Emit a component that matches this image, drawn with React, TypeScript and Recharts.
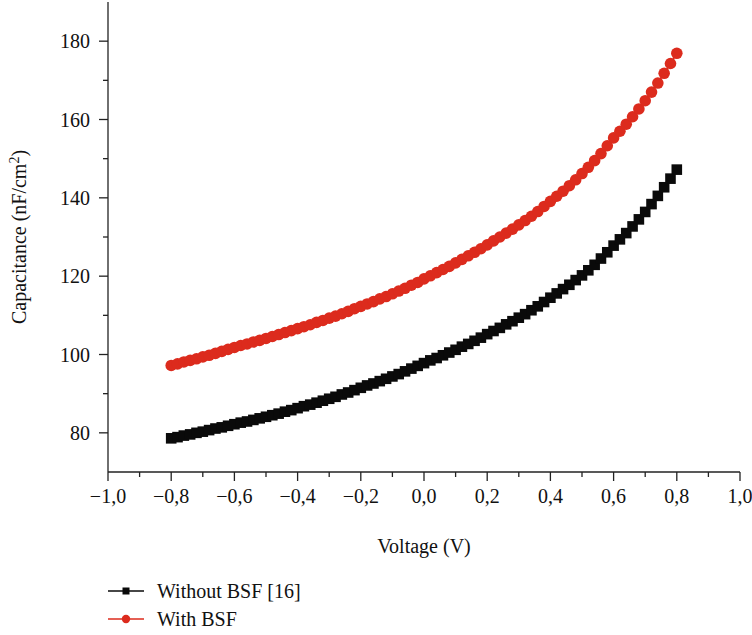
import { LineChart, Line, XAxis, YAxis } from "recharts"

let voltage = [
  -0.8, -0.78, -0.76, -0.74, -0.72, -0.7, -0.68, -0.66, -0.64, -0.62,
  -0.6, -0.58, -0.56, -0.54, -0.52, -0.5, -0.48, -0.46, -0.44, -0.42,
  -0.4, -0.38, -0.36, -0.34, -0.32, -0.3, -0.28, -0.26, -0.24, -0.22,
  -0.2, -0.18, -0.16, -0.14, -0.12, -0.1, -0.08, -0.06, -0.04, -0.02,
  0, 0.02, 0.04, 0.06, 0.08, 0.1, 0.12, 0.14, 0.16, 0.18,
  0.2, 0.22, 0.24, 0.26, 0.28, 0.3, 0.32, 0.34, 0.36, 0.38,
  0.4, 0.42, 0.44, 0.46, 0.48, 0.5, 0.52, 0.54, 0.56, 0.58,
  0.6, 0.62, 0.64, 0.66, 0.68, 0.7, 0.72, 0.74, 0.76, 0.78, 0.8,
]

let withoutBSF = [
  78.6, 78.9, 79.3, 79.6, 80.0, 80.3, 80.7, 81.1, 81.4, 81.8,
  82.2, 82.6, 82.9, 83.3, 83.7, 84.1, 84.5, 84.9, 85.4, 85.8,
  86.3, 86.8, 87.2, 87.7, 88.2, 88.7, 89.2, 89.8, 90.3, 90.9,
  91.5, 92.1, 92.6, 93.2, 93.8, 94.4, 95.0, 95.7, 96.4, 97.1,
  97.8, 98.5, 99.1, 99.8, 100.5, 101.2, 102.0, 102.7, 103.5, 104.3,
  105.2, 106.0, 106.8, 107.7, 108.5, 109.4, 110.3, 111.3, 112.3, 113.4,
  114.5, 115.6, 116.7, 117.8, 119.0, 120.2, 121.5, 122.9, 124.5, 126.1,
  127.8, 129.4, 131.0, 132.7, 134.5, 136.4, 138.4, 140.5, 142.7, 144.9, 147.2,
]

let withBSF = [
  97.2, 97.6, 98.1, 98.5, 98.9, 99.4, 99.8, 100.3, 100.8, 101.3,
  101.8, 102.3, 102.7, 103.2, 103.6, 104.1, 104.6, 105.1, 105.6, 106.1,
  106.6, 107.1, 107.6, 108.2, 108.7, 109.3, 109.8, 110.4, 111.0, 111.7,
  112.3, 112.9, 113.5, 114.2, 114.8, 115.5, 116.2, 116.9, 117.7, 118.4,
  119.3, 120.1, 120.9, 121.7, 122.5, 123.4, 124.3, 125.2, 126.1, 127.0,
  128.0, 129.0, 130.0, 131.0, 132.0, 133.1, 134.2, 135.3, 136.5, 137.8,
  139.1, 140.4, 141.7, 143.1, 144.6, 146.2, 147.8, 149.5, 151.3, 153.3,
  155.3, 157.0, 158.8, 160.7, 162.7, 164.8, 167.0, 169.3, 171.8, 174.3, 176.9,
]

let xTicks = [-1, -0.9, -0.8, -0.7, -0.6, -0.5, -0.4, -0.3, -0.2, -0.1, 0, 0.1, 0.2, 0.3, 0.4, 0.5, 0.6, 0.7, 0.8, 0.9, 1]
let yTicks = [80, 90, 100, 110, 120, 130, 140, 150, 160, 170, 180]

let FONT = "'Liberation Serif', 'DejaVu Serif', serif"
let AXIS = "#222"
let RED = "#dc2b1d"
let BLACK = "#0a0a0a"

let fmtX = (v: number) => {
  let s = Math.abs(v).toFixed(1).replace(".", ",")
  return v < 0 ? "\u2212" + s : s
}

let XTick = ({ x, y, payload }: any) => {
  let v = payload.value
  let major = Math.round(v * 10) % 2 === 0
  return (
    <g>
      <line x1={x} x2={x} y1={y} y2={y + (major ? 9 : 5)} stroke={AXIS} strokeWidth={1.3} />
      {major && (
        <text x={x} y={y + 31} textAnchor="middle" fontSize={20} fontFamily={FONT} fill="#111">
          {fmtX(v)}
        </text>
      )}
    </g>
  )
}

let YTick = ({ x, y, payload }: any) => {
  let v = payload.value
  let major = v % 20 === 0
  return (
    <g>
      <line x1={x} x2={x - (major ? 9 : 5)} y1={y} y2={y} stroke={AXIS} strokeWidth={1.3} />
      {major && (
        <text x={x - 18} y={y + 7} textAnchor="end" fontSize={20} fontFamily={FONT} fill="#111">
          {v}
        </text>
      )}
    </g>
  )
}

let SquareDot = ({ cx, cy, index }: any) => (
  <rect key={index} x={cx - 5.3} y={cy - 5.3} width={10.6} height={10.6} fill={BLACK} />
)

let YLabel = ({ viewBox }: any) => {
  let cx = viewBox.x + 26
  let cy = viewBox.y + viewBox.height / 2
  return (
    <text x={cx} y={cy} transform={`rotate(-90 ${cx} ${cy})`} textAnchor="middle" fontSize={20} fontFamily={FONT} fill="#111">
      Capacitance (nF/cm
      <tspan fontSize={14} dy={-7}>2</tspan>
      <tspan dy={7}>)</tspan>
    </text>
  )
}

let XLabel = ({ viewBox }: any) => (
  <text x={viewBox.x + viewBox.width / 2} y={viewBox.y + 81} textAnchor="middle" fontSize={20} fontFamily={FONT} fill="#111">
    Voltage (V)
  </text>
)

export default function App() {
  let data = voltage.map((v, i) => ({ v, a: withoutBSF[i], b: withBSF[i] }))

  return (
    <div style={{ position: "absolute", left: 0, top: 0, width: 752, height: 635, background: "#fff" }}>
      <LineChart width={752} height={635} data={data} margin={{ top: 2, right: 12, bottom: 78, left: 0 }}>
        <XAxis
          dataKey="v"
          type="number"
          domain={[-1, 1]}
          ticks={xTicks}
          interval={0}
          tickSize={0}
          tickMargin={0}
          tick={<XTick />}
          height={85}
          axisLine={{ stroke: AXIS, strokeWidth: 1.3 }}
          label={<XLabel />}
        />
        <XAxis xAxisId="top" orientation="top" type="number" domain={[-1, 1]} height={0} tick={false} tickLine={false} axisLine={{ stroke: AXIS, strokeWidth: 1.3 }} />
        <YAxis
          type="number"
          domain={[70, 190]}
          ticks={yTicks}
          interval={0}
          tickSize={0}
          tickMargin={0}
          tick={<YTick />}
          width={108}
          axisLine={{ stroke: AXIS, strokeWidth: 1.3 }}
          label={<YLabel />}
        />
        <YAxis yAxisId="right" orientation="right" type="number" domain={[70, 190]} width={0} tick={false} tickLine={false} axisLine={{ stroke: AXIS, strokeWidth: 1.3 }} />
        <Line
          type="linear"
          dataKey="a"
          stroke={BLACK}
          strokeWidth={1.5}
          dot={<SquareDot />}
          activeDot={false}
          isAnimationActive={false}
        />
        <Line
          type="linear"
          dataKey="b"
          stroke={RED}
          strokeWidth={1.5}
          dot={{ r: 5.8, fill: RED, stroke: "none" }}
          activeDot={false}
          isAnimationActive={false}
        />
      </LineChart>
      <svg width={752} height={635} style={{ position: "absolute", left: 0, top: 0, pointerEvents: "none" }}>
        <line x1={108} x2={144} y1={591} y2={591} stroke={BLACK} strokeWidth={1.5} />
        <rect x={122.5} y={587.5} width={7} height={7} fill={BLACK} />
        <text x={157} y={598} fontSize={20} fontFamily={FONT} fill="#111">Without BSF [16]</text>
        <line x1={108} x2={144} y1={619} y2={619} stroke={RED} strokeWidth={1.5} />
        <circle cx={126} cy={619} r={4.2} fill={RED} />
        <text x={157} y={626} fontSize={20} fontFamily={FONT} fill="#111">With BSF</text>
      </svg>
    </div>
  )
}
